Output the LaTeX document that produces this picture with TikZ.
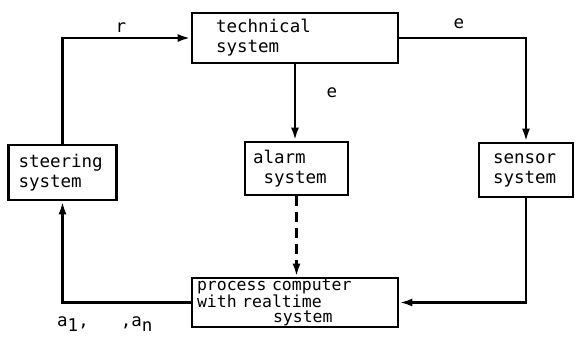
\documentclass[tikz,border=0pt]{standalone}
\usepackage{fontspec}
\setmonofont{DejaVu Sans Mono}
\usetikzlibrary{arrows.meta}
\tikzset{
  blk/.style={draw, line width=2.7pt, rectangle, align=left, inner ysep=0pt,
    font=\ttfamily\fontsize{17.5}{20}\selectfont},
  conn/.style={line width=2.6pt, -{Latex[length=13pt,width=8pt]}},
  lbl/.style={font=\ttfamily\fontsize{17.5}{20}\selectfont, inner sep=0pt},
}
\begin{document}
\begin{tikzpicture}[x=1pt,y=-1pt]
\useasboundingbox (0,0) rectangle (577,339);
\node[blk, minimum width=206, minimum height=50, text width=158, inner xsep=24] (tech) at (295,38) {technical\\system};
\node[blk, minimum width=101, minimum height=55, text width=88, inner xsep=10] (steer) at (62.5,172.5) {steering\\system};
\node[blk, minimum width=103, minimum height=53, text width=87, inner xsep=8] (alarm) at (296.5,168.5) {alarm\\\hspace*{10.5pt}system};
\node[blk, minimum width=94, minimum height=54, text width=66, inner xsep=14] (sensor) at (526,170) {sensor\\system};
\node[blk, minimum width=206, minimum height=49, text width=196, inner xsep=5,
  font=\ttfamily\fontsize{16.5}{14.5}\selectfont] (proc) at (295,302.5) {process computer\\with realtime\\\hspace*{76pt}system};

\draw[conn] (steer.north) |- (tech.west);
\draw[conn] (tech.east) -| (sensor.north);
\draw[conn] (tech.south) -- (tech.south |- alarm.north);
\draw[conn, dash pattern=on 10pt off 6pt] (alarm.south) -- (alarm.south |- proc.north);
\draw[conn] (sensor.south) |- (proc.east);
\draw[conn] (proc.west) -| (steer.south);

\node[lbl] (lr) at (121,28) {r};
\node[lbl] (le1) at (459,24) {e};
\node[lbl] (le2) at (332,93) {e};
\node[lbl, anchor=base west] (la) at (57,326) {a\raisebox{-5pt}{1},\hspace*{32pt},a\raisebox{-5pt}{n}};
\end{tikzpicture}
\end{document}
